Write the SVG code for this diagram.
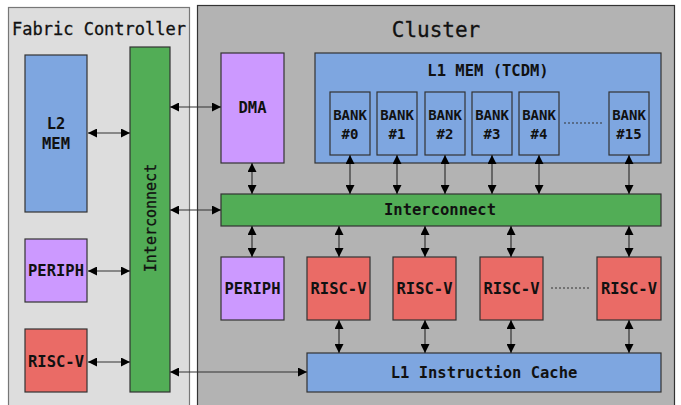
<svg xmlns="http://www.w3.org/2000/svg" width="681" height="405" viewBox="0 0 681 405">
<defs>
<marker id="ah" viewBox="0 0 10 10" refX="10" refY="5" markerWidth="9" markerHeight="9" markerUnits="userSpaceOnUse" orient="auto-start-reverse">
<path d="M0,0 L10,5 L0,10 z" fill="#000"/>
</marker>
<style>
.box{stroke:#333;stroke-width:1.2}
.blue{fill:#7ea6e0}
.green{fill:#52ad56}
.purple{fill:#cc99ff}
.red{fill:#ea6b66}
.lbl{font-family:"DejaVu Sans Mono","Liberation Mono",monospace;font-weight:bold;font-size:15.5px;fill:#111;text-anchor:middle}
.bank{font-size:14px}
.ttl{font-family:"DejaVu Sans Mono","Liberation Mono",monospace;fill:#111;text-anchor:middle}
.arr{stroke:#333;stroke-width:1.2;fill:none;marker-start:url(#ah);marker-end:url(#ah)}
.dots{stroke:#333;stroke-width:1;stroke-dasharray:2,2}
</style>
</defs>
<rect width="681" height="405" fill="#fff"/>
<g id="fabric-controller">
<rect x="8.5" y="7.5" width="181" height="410" fill="#dddddd" stroke="#777" stroke-width="1.2"/>
<text class="ttl" x="99" y="35" font-size="17" stroke="#111" stroke-width="0.3">Fabric Controller</text>
</g>
<g id="cluster">
<rect x="197.5" y="5.5" width="477" height="410" fill="#b3b3b3" stroke="#333" stroke-width="1.2"/>
<text class="ttl" x="436" y="37" font-size="21" stroke="#111" stroke-width="0.3">Cluster</text>
</g>
<g id="fc-interconnect">
<rect class="box green" x="130" y="47" width="40" height="345"/>
<text class="ttl" transform="translate(151,218) rotate(-90)" font-size="15" dominant-baseline="central" stroke="#111" stroke-width="0.3">Interconnect</text>
</g>
<g id="l2-mem">
<rect class="box blue" x="25" y="55" width="62" height="157"/>
<text class="lbl" x="56" y="129">L2</text>
<text class="lbl" x="56" y="149">MEM</text>
</g>
<g id="fc-periph">
<rect class="box purple" x="25" y="239" width="62" height="63"/>
<text class="lbl" x="56" y="276">PERIPH</text>
</g>
<g id="fc-riscv">
<rect class="box red" x="25" y="329" width="62" height="63"/>
<text class="lbl" x="56" y="367">RISC-V</text>
</g>
<g id="dma">
<rect class="box purple" x="221" y="53" width="63" height="110"/>
<text class="lbl" x="252.5" y="113">DMA</text>
</g>
<g id="l1-mem">
<rect class="box blue" x="315" y="53" width="346" height="110"/>
<text class="lbl" x="488" y="76">L1 MEM (TCDM)</text>
</g>
<g id="bank0"><rect class="box blue" x="330" y="92" width="40" height="63"/><text class="lbl bank" x="350" y="120">BANK</text><text class="lbl bank" x="350" y="139">#0</text></g>
<g id="bank1"><rect class="box blue" x="377" y="92" width="40" height="63"/><text class="lbl bank" x="397" y="120">BANK</text><text class="lbl bank" x="397" y="139">#1</text></g>
<g id="bank2"><rect class="box blue" x="425" y="92" width="40" height="63"/><text class="lbl bank" x="445" y="120">BANK</text><text class="lbl bank" x="445" y="139">#2</text></g>
<g id="bank3"><rect class="box blue" x="472" y="92" width="40" height="63"/><text class="lbl bank" x="492" y="120">BANK</text><text class="lbl bank" x="492" y="139">#3</text></g>
<g id="bank4"><rect class="box blue" x="519" y="92" width="40" height="63"/><text class="lbl bank" x="539" y="120">BANK</text><text class="lbl bank" x="539" y="139">#4</text></g>
<g id="bank15"><rect class="box blue" x="609" y="92" width="40" height="63"/><text class="lbl bank" x="629" y="120">BANK</text><text class="lbl bank" x="629" y="139">#15</text></g>
<g id="cl-interconnect">
<rect class="box green" x="221" y="194" width="440" height="32"/>
<text class="lbl" x="440" y="215">Interconnect</text>
</g>
<g id="cl-periph"><rect class="box purple" x="221" y="257" width="63" height="63"/><text class="lbl" x="252.5" y="294">PERIPH</text></g>
<g id="riscv1"><rect class="box red" x="307" y="257" width="63" height="63"/><text class="lbl" x="338.5" y="294">RISC-V</text></g>
<g id="riscv2"><rect class="box red" x="393" y="257" width="63" height="63"/><text class="lbl" x="424.5" y="294">RISC-V</text></g>
<g id="riscv3"><rect class="box red" x="480" y="257" width="63" height="63"/><text class="lbl" x="511.5" y="294">RISC-V</text></g>
<g id="riscv4"><rect class="box red" x="597" y="257" width="64" height="63"/><text class="lbl" x="629" y="294">RISC-V</text></g>
<g id="l1-icache">
<rect class="box blue" x="307" y="353" width="354" height="39"/>
<text class="lbl" x="484" y="378">L1 Instruction Cache</text>
</g>
<g id="connectors">
<line class="dots" x1="564" y1="123" x2="604" y2="123"/>
<line class="dots" x1="551" y1="288" x2="591" y2="288"/>
<line class="arr" x1="88" y1="133" x2="130" y2="133"/>
<line class="arr" x1="88" y1="271" x2="130" y2="271"/>
<line class="arr" x1="88" y1="362" x2="130" y2="362"/>
<line class="arr" x1="170" y1="107" x2="221" y2="107"/>
<line class="arr" x1="170" y1="210" x2="221" y2="210"/>
<line class="arr" x1="170" y1="372" x2="307" y2="372"/>
<line class="arr" x1="252" y1="163" x2="252" y2="194"/>
<line class="arr" x1="350" y1="155" x2="350" y2="194"/>
<line class="arr" x1="397" y1="155" x2="397" y2="194"/>
<line class="arr" x1="445" y1="155" x2="445" y2="194"/>
<line class="arr" x1="492" y1="155" x2="492" y2="194"/>
<line class="arr" x1="539" y1="155" x2="539" y2="194"/>
<line class="arr" x1="629" y1="155" x2="629" y2="194"/>
<line class="arr" x1="252" y1="226" x2="252" y2="257"/>
<line class="arr" x1="339" y1="226" x2="339" y2="257"/>
<line class="arr" x1="425" y1="226" x2="425" y2="257"/>
<line class="arr" x1="511" y1="226" x2="511" y2="257"/>
<line class="arr" x1="629" y1="226" x2="629" y2="257"/>
<line class="arr" x1="339" y1="320" x2="339" y2="353"/>
<line class="arr" x1="425" y1="320" x2="425" y2="353"/>
<line class="arr" x1="511" y1="320" x2="511" y2="353"/>
<line class="arr" x1="629" y1="320" x2="629" y2="353"/>
</g>
</svg>
